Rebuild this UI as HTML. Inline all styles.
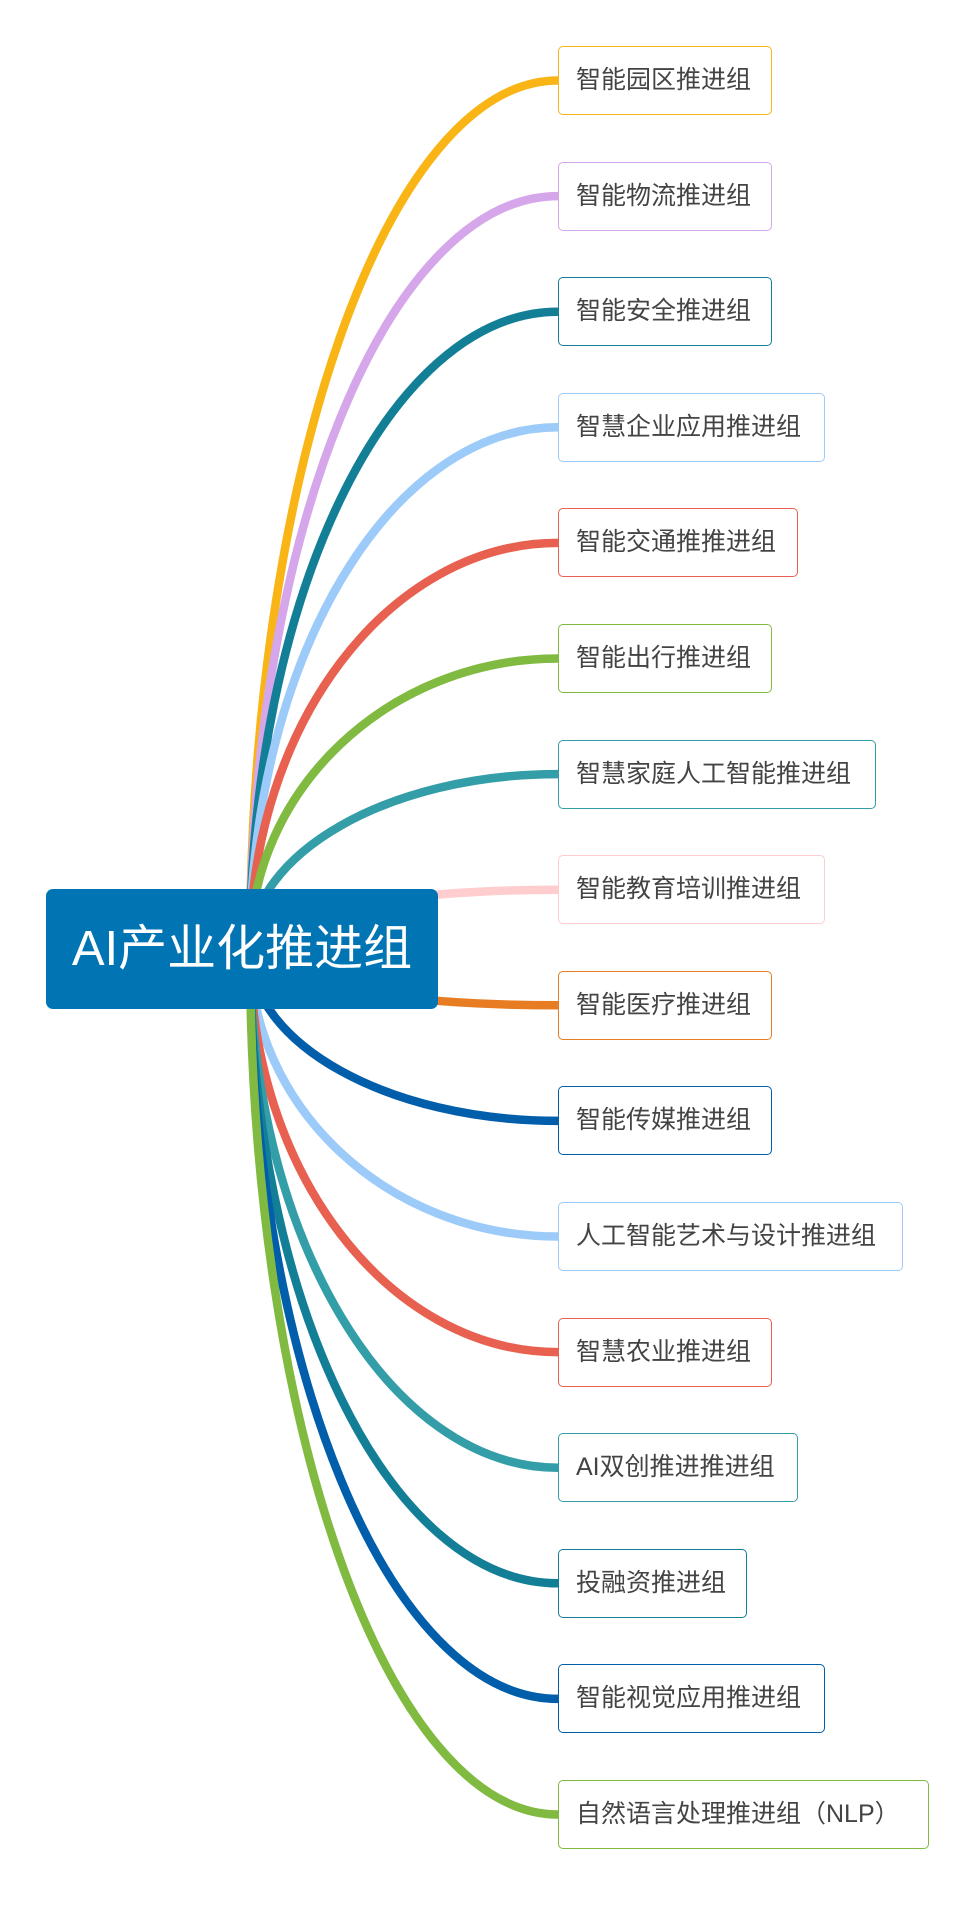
<!DOCTYPE html>
<html><head><meta charset="utf-8"><style>
body{margin:0;width:978px;height:1905px;background:#fff;position:relative;overflow:hidden;font-family:"Liberation Sans","Noto Sans CJK SC",sans-serif}
.n{position:absolute;left:558px;height:69px;border:1px solid;border-radius:5px;background:#fff;box-sizing:border-box;font-size:25px;color:#444;line-height:67px;padding-left:17px;white-space:nowrap}
#c{position:absolute;left:46px;top:889px;width:392px;height:120px;background:#0174B4;border-radius:7px;color:#fff;font-size:49px;line-height:120px;text-align:center}
svg{position:absolute;left:0;top:0}
</style></head><body>
<svg width="978" height="1905" fill="none" stroke-width="8.5" stroke-linecap="round">
<path stroke="#F9B515" d="M250,950 C250,471.8 388.6,80.5 558,80.5"/>
<path stroke="#D5A6EA" d="M250,950 C250,535.4 388.6,196.1 558,196.1"/>
<path stroke="#137F97" d="M250,950 C250,598.9 388.6,311.7 558,311.7"/>
<path stroke="#9CCBF9" d="M250,950 C250,662.5 388.6,427.3 558,427.3"/>
<path stroke="#E8604F" d="M250,950 C250,726.1 388.6,542.9 558,542.9"/>
<path stroke="#80BA40" d="M250,950 C250,789.7 388.6,658.5 558,658.5"/>
<path stroke="#349EA8" d="M250,950 C250,853.3 388.6,774.1 558,774.1"/>
<path stroke="#FFCDCD" d="M250,950 C250,916.8 388.6,889.7 558,889.7"/>
<path stroke="#E77C22" d="M250,950 C250,980.4 388.6,1005.3 558,1005.3"/>
<path stroke="#005EAA" d="M250,950 C250,1044 388.6,1120.9 558,1120.9"/>
<path stroke="#9CCBF9" d="M250,950 C250,1107.6 388.6,1236.5 558,1236.5"/>
<path stroke="#E8604F" d="M250,950 C250,1171.2 388.6,1352.1 558,1352.1"/>
<path stroke="#349EA8" d="M250,950 C250,1234.7 388.6,1467.7 558,1467.7"/>
<path stroke="#137F97" d="M250,950 C250,1298.3 388.6,1583.3 558,1583.3"/>
<path stroke="#005EAA" d="M250,950 C250,1361.9 388.6,1698.9 558,1698.9"/>
<path stroke="#80BA40" d="M250,950 C250,1425.5 388.6,1814.5 558,1814.5"/>
</svg>
<div id="c">AI产业化推进组</div>
<div class="n" style="top:46px;width:214px;border-color:#F9B515">智能园区推进组</div>
<div class="n" style="top:162px;width:214px;border-color:#D5A6EA">智能物流推进组</div>
<div class="n" style="top:277px;width:214px;border-color:#137F97">智能安全推进组</div>
<div class="n" style="top:393px;width:267px;border-color:#9CCBF9">智慧企业应用推进组</div>
<div class="n" style="top:508px;width:240px;border-color:#E8604F">智能交通推推进组</div>
<div class="n" style="top:624px;width:214px;border-color:#80BA40">智能出行推进组</div>
<div class="n" style="top:740px;width:318px;border-color:#349EA8">智慧家庭人工智能推进组</div>
<div class="n" style="top:855px;width:267px;border-color:#FFCDCD">智能教育培训推进组</div>
<div class="n" style="top:971px;width:214px;border-color:#E77C22">智能医疗推进组</div>
<div class="n" style="top:1086px;width:214px;border-color:#005EAA">智能传媒推进组</div>
<div class="n" style="top:1202px;width:345px;border-color:#9CCBF9">人工智能艺术与设计推进组</div>
<div class="n" style="top:1318px;width:214px;border-color:#E8604F">智慧农业推进组</div>
<div class="n" style="top:1433px;width:240px;border-color:#349EA8">AI双创推进推进组</div>
<div class="n" style="top:1549px;width:189px;border-color:#137F97">投融资推进组</div>
<div class="n" style="top:1664px;width:267px;border-color:#005EAA">智能视觉应用推进组</div>
<div class="n" style="top:1780px;width:371px;border-color:#80BA40">自然语言处理推进组（NLP）</div>
</body></html>
